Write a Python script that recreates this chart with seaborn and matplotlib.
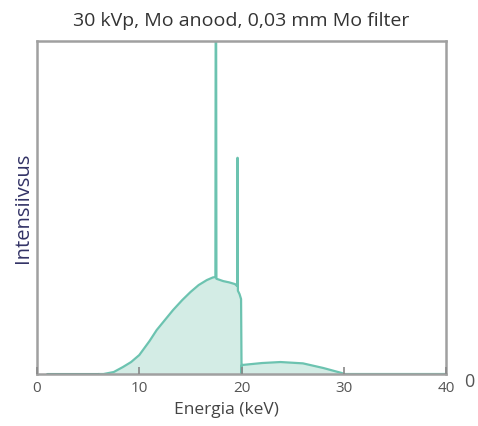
import numpy as np
import pandas as pd
import seaborn as sns
import matplotlib.pyplot as plt

# Mo anode spectrum (intensity in % of axes height)
energy = [6.0, 6.5, 7.5, 8.4, 9.2, 10.0, 10.5, 11.0, 11.7, 12.5, 13.3, 14.2, 15.0, 15.8,
          16.6, 17.2, 17.44, 17.47, 17.51, 17.54, 18.2, 18.8, 19.35, 19.57, 19.59,
          19.62, 19.64, 19.8, 19.95, 20.0, 20.02, 22.0, 23.8, 26.0, 28.0, 29.8, 30.0, 40.0]
intensity = [0.0, 0.0, 0.6, 2.1, 3.6, 5.7, 7.8, 9.9, 13.2, 16.2, 19.2, 22.2, 24.6, 26.7,
             28.2, 29.0, 29.1, 110.0, 110.0, 28.6, 27.9, 27.5, 27.0, 26.4, 64.9,
             64.9, 25.0, 24.0, 22.5, 0.0, 2.7, 3.3, 3.6, 3.2, 1.8, 0.3, 0.0, 0.0]
low_energy = [1.0, 6.0]
low_intensity = [0.0, 0.0]

xticks = [0, 10, 20, 30, 40]

df = pd.DataFrame({"energy": energy, "intensity": intensity})
df_low = pd.DataFrame({"energy": low_energy, "intensity": low_intensity})

sns.set_style("white")
plt.rcParams["font.family"] = ["Open Sans", "DejaVu Sans"]

fig = plt.figure(figsize=(4.78, 4.26), dpi=100)
ax = fig.add_axes([0.0774, 0.122, 0.856, 0.782])

line_c = "#6cc3b0"
ax.fill_between(df["energy"], df["intensity"], color="#d3ece5", lw=0)
sns.lineplot(data=df, x="energy", y="intensity", ax=ax, color=line_c, lw=1.6,
             sort=False, estimator=None)
sns.lineplot(data=df_low, x="energy", y="intensity", ax=ax, color="#3f9c88", lw=2.2,
             estimator=None)

ax.set_axisbelow(False)
ax.set_xlim(0, 40)
ax.set_ylim(0, 100)
ax.set_xticks(xticks)
ax.set_xticklabels([str(t) for t in xticks])
ax.set_yticks([])
ax.tick_params(axis="x", bottom=True, direction="in", length=5, width=1.2,
               color="#888888", labelsize=11, labelcolor="#555555", pad=5)
for sp in ax.spines.values():
    sp.set_color("#a0a0a0")
    sp.set_linewidth(1.8)

ax.set_title("30 kVp, Mo anood, 0,03 mm Mo filter", fontsize=14, color="#333333", pad=11)
ax.set_xlabel("Energia (keV)", fontsize=12.5, color="#444444")
ax.xaxis.set_label_coords(0.462, -0.085)
ax.set_ylabel("Intensiivsus", fontsize=14.5, color="#333366", labelpad=3)
fig.text(0.972, 0.092, "0", fontsize=13, color="#555555")

fig.savefig("out.png", dpi=100)
